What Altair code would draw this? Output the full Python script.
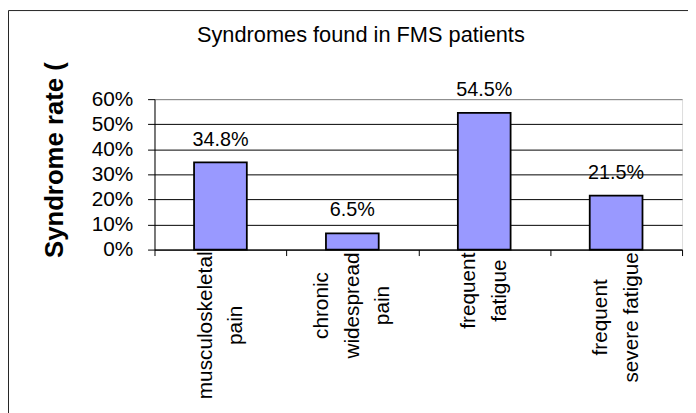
import json
import altair as alt
import pandas as pd

# ---- data ----
label_lines = [
    ["musculoskeletal", "pain"],
    ["chronic", "widespread", "pain"],
    ["frequent", "fatigue"],
    ["frequent", "severe fatigue"],
]
rates_pct = [34.8, 6.5, 54.5, 21.5]
y_ticks = [0, 0.1, 0.2, 0.3, 0.4, 0.5, 0.6]
title_text = "Syndromes found in FMS patients"
y_title = "Syndrome rate ("

categories = ["\n".join(l) for l in label_lines]
df = pd.DataFrame({"syndrome": categories, "pct": rates_pct})

LINE_H = 31
# per-label padding so each rotated label block starts right under the axis
pads = [70, 50, 35, 62]
pad_cond = {
    "condition": [
        {"test": f"datum.value == {json.dumps(c)}", "value": p}
        for c, p in zip(categories, pads)
    ],
    "value": 40,
}
# shift multi-line blocks so they are centred on the band
off_cond = {
    "condition": [
        {"test": f"datum.value == {json.dumps(c)}", "value": -(len(l) - 1) * LINE_H / 2}
        for c, l in zip(categories, label_lines)
    ],
    "value": 0,
}

FONT = "Liberation Sans"
W, H = 533, 152

base = alt.Chart(df).transform_calculate(rate="datum.pct / 100")

x_enc = alt.X(
    "syndrome:N",
    sort=None,
    scale=alt.Scale(paddingInner=0, paddingOuter=0),
    axis=alt.Axis(
        title=None,
        labelAngle=270,
        labelAlign="center",
        labelBaseline="middle",
        labelExpr="split(datum.label, '\\n')",
        labelLineHeight=LINE_H,
        labelFontSize=21,
        labelFont=FONT,
        labelColor="black",
        labelPadding=pad_cond,
        labelOffset=off_cond,
        tickBand="extent",
        tickSize=6,
        tickColor="black",
        domainColor="black",
        labelLimit=400,
        labelOverlap=False,
    ),
)

y_enc = alt.Y(
    "rate:Q",
    scale=alt.Scale(domain=[0, 0.6], nice=False),
    axis=alt.Axis(
        values=y_ticks,
        format=".0%",
        title=y_title,
        titleFont=FONT,
        titleFontSize=26,
        titleFontWeight="bold",
        titleColor="black",
        titleAngle=270,
        titleAlign="left",
        titleBaseline="alphabetic",
        titleX=-93,
        titleY=160,
        labelFont=FONT,
        labelFontSize=21,
        labelColor="black",
        labelPadding=15,
        labelOverlap=False,
        tickSize=7,
        tickColor="black",
        domainColor="black",
        gridColor={"condition": {"test": "datum.value >= 0.6", "value": "#808080"}, "value": "black"},
        gridWidth=1,
    ),
)

bars = base.mark_bar(
    color="#9999FF", stroke="black", strokeWidth=1.8, width={"band": 0.4}
).encode(x=x_enc, y=y_enc)

labels = base.mark_text(
    font=FONT, fontSize=20, color="black", baseline="alphabetic", dy=-17
).encode(
    x=x_enc,
    y=y_enc,
    text=alt.Text("rate:Q", format=".1%"),
)

frame_top = alt.Chart(alt.Data(values=[{}])).mark_rule(color="#222", strokeWidth=1).encode(
    x=alt.value(-147.5), x2=alt.value(540), y=alt.value(-89.5)
)
frame_left = alt.Chart(alt.Data(values=[{}])).mark_rule(color="#222", strokeWidth=1).encode(
    x=alt.value(-147.5), y=alt.value(-89.5), y2=alt.value(320)
)

chart = (
    alt.layer(bars, labels, frame_top, frame_left)
    .properties(
        width=W,
        height=H,
        title=alt.TitleParams(
            title_text,
            font=FONT,
            fontSize=22,
            fontWeight="normal",
            color="black",
            anchor="middle",
            frame="group",
            dx=-58,
            dy=54,
            baseline="alphabetic",
            offset=0,
        ),
        padding={"left": 148, "top": 90, "right": 6, "bottom": 163},
        autosize=alt.AutoSizeParams(type="none"),
    )
    .configure_view(fill="#C0C0C0", stroke="#808080", strokeWidth=1)
    .configure(background="white")
)

chart.save("out.html", embed_options={"renderer": "svg", "actions": False})
